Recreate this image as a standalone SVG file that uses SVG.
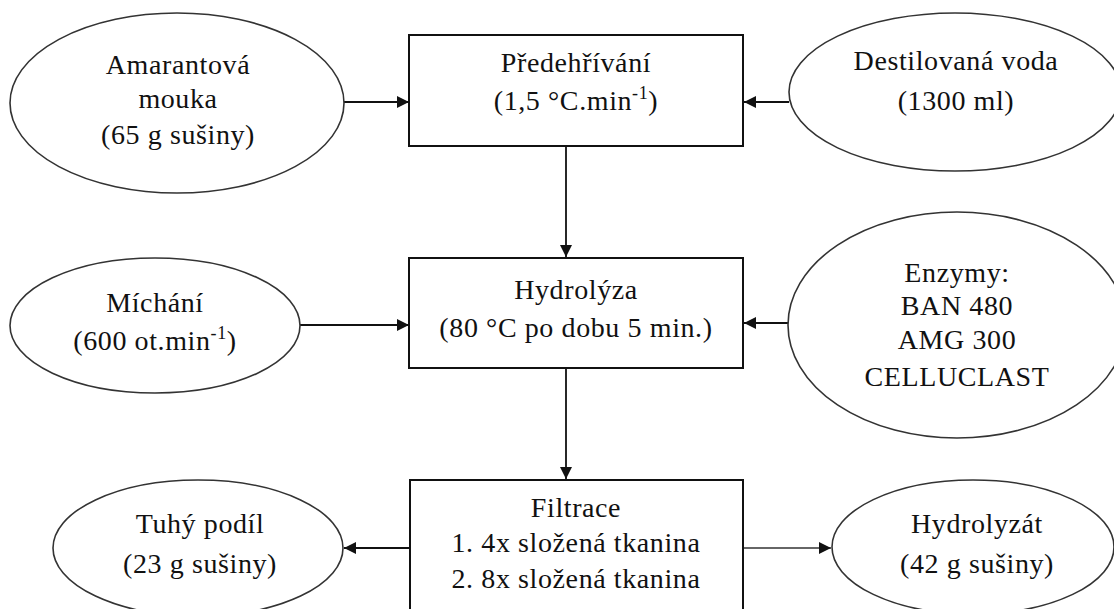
<svg xmlns="http://www.w3.org/2000/svg" width="1114" height="609" viewBox="0 0 1114 609">
<style>
.t{font-size:28px;letter-spacing:0.6px;fill:#111;text-anchor:middle}
.sup{font-size:18px}
.e{fill:#fff;stroke:#333;stroke-width:1.6}
.b{fill:#fff;stroke:#111;stroke-width:2}
.c{stroke:#111;stroke-width:1.8;fill:none;marker-end:url(#ah)}
</style>
<defs>
<marker id="ah" markerUnits="userSpaceOnUse" markerWidth="14" markerHeight="12" refX="12" refY="6" orient="auto">
<path d="M0,0 L12,6 L0,12 Z" fill="#111"/>
</marker>
</defs>
<rect width="1114" height="609" fill="#fff"/>
<g id="connectors">
<line class="c" x1="343" y1="102" x2="409" y2="102"/>
<line class="c" x1="789" y1="102" x2="744" y2="102"/>
<line class="c" x1="566" y1="146" x2="566" y2="257"/>
<line class="c" x1="300" y1="325" x2="409" y2="325"/>
<line class="c" x1="788" y1="323" x2="744" y2="323"/>
<line class="c" x1="566" y1="368" x2="566" y2="479"/>
<line class="c" x1="410" y1="548" x2="344" y2="548"/>
<line class="c" x1="743" y1="548" x2="831" y2="548" style="stroke:#666;stroke-width:2.2"/>
</g>
<g font-family="'Liberation Serif', 'Times New Roman', serif">
<g id="amarant">
<ellipse class="e" cx="177" cy="103" rx="167" ry="90"/>
<text class="t" x="178" y="74">Amarantová</text>
<text class="t" x="178" y="108">mouka</text>
<text class="t" x="178" y="144">(65 g sušiny)</text>
</g>
<g id="predehrivani">
<rect class="b" x="409" y="35" width="334" height="111"/>
<text class="t" x="576" y="72">Předehřívání</text>
<text class="t" x="576" y="110">(1,5 °C.min<tspan class="sup" dy="-11">-1</tspan><tspan dy="11">)</tspan></text>
</g>
<g id="voda">
<ellipse class="e" cx="955" cy="92" rx="166" ry="79"/>
<text class="t" x="956" y="70">Destilovaná voda</text>
<text class="t" x="956" y="110">(1300 ml)</text>
</g>
<g id="michani">
<ellipse class="e" cx="155" cy="325.5" rx="145" ry="67.5"/>
<text class="t" x="155" y="312">Míchání</text>
<text class="t" x="155" y="350">(600 ot.min<tspan class="sup" dy="-11">-1</tspan><tspan dy="11">)</tspan></text>
</g>
<g id="hydrolyza">
<rect class="b" x="409" y="258" width="334" height="110"/>
<text class="t" x="576" y="299">Hydrolýza</text>
<text class="t" x="576" y="337">(80 °C po dobu 5 min.)</text>
</g>
<g id="enzymy">
<ellipse class="e" cx="957" cy="325" rx="169" ry="113"/>
<text class="t" x="957" y="282">Enzymy:</text>
<text class="t" x="957" y="315">BAN 480</text>
<text class="t" x="957" y="349">AMG 300</text>
<text class="t" x="957" y="386">CELLUCLAST</text>
</g>
<g id="filtrace">
<rect class="b" x="410" y="480" width="333" height="140"/>
<text class="t" x="576" y="517">Filtrace</text>
<text class="t" x="576" y="552">1. 4x složená tkanina</text>
<text class="t" x="576" y="588">2. 8x složená tkanina</text>
</g>
<g id="tuhy">
<ellipse class="e" cx="198" cy="548" rx="145" ry="68"/>
<text class="t" x="200" y="533">Tuhý podíl</text>
<text class="t" x="200" y="573">(23 g sušiny)</text>
</g>
<g id="hydrolyzat">
<ellipse class="e" cx="973" cy="547" rx="141" ry="67"/>
<text class="t" x="977" y="533">Hydrolyzát</text>
<text class="t" x="977" y="573">(42 g sušiny)</text>
</g>
</g>
</svg>
